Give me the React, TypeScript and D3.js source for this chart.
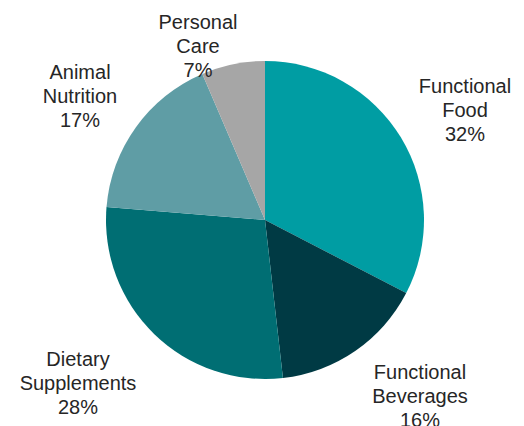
import React from "react";
import * as d3 from "d3";

const categories = ["Functional Food", "Functional Beverages", "Dietary Supplements", "Animal Nutrition", "Personal Care"];
const labelLines = [["Functional", "Food"], ["Functional", "Beverages"], ["Dietary", "Supplements"], ["Animal", "Nutrition"], ["Personal", "Care"]];
const shares = [32.6, 15.6, 28.1, 17.25, 6.45];
const shareLabels = ["32%", "16%", "28%", "17%", "7%"];
const colors = ["#009DA3", "#003A44", "#006E73", "#5F9DA5", "#A6A6A6"];
const labelOffsets: [number, number][] = [[200, -103], [155, 183], [-187, 170], [-185, -117], [-67, -167]];

export default function App() {
  const W = 524, H = 426;
  const cx = 265, cy = 220, r = 159;
  const data = categories.map((c, i) => ({ c, v: shares[i], i }));
  const pie = d3.pie<any>().sort(null).value((d) => d.v);
  const arc = d3.arc<any>().innerRadius(0).outerRadius(r);
  const arcs = pie(data);
  const lh = 24;
  return (
    <svg width={W} height={H} style={{ position: "absolute", left: 0, top: 0, background: "#fff" }}>
      <g transform={`translate(${cx},${cy})`}>
        {arcs.map((a, i) => (
          <path key={i} d={arc(a) as string} fill={colors[i]} />
        ))}
        {arcs.map((a, i) => {
          const [dx, dy] = labelOffsets[i];
          const lines = [...labelLines[i], shareLabels[i]];
          return (
            <text key={"t" + i} textAnchor="middle" fontFamily="Liberation Sans, Arial, sans-serif" fontSize={20} fill="#262626">
              {lines.map((l, j) => (
                <tspan key={j} x={dx} y={dy + (j - 1) * lh}>{l}</tspan>
              ))}
            </text>
          );
        })}
      </g>
    </svg>
  );
}
